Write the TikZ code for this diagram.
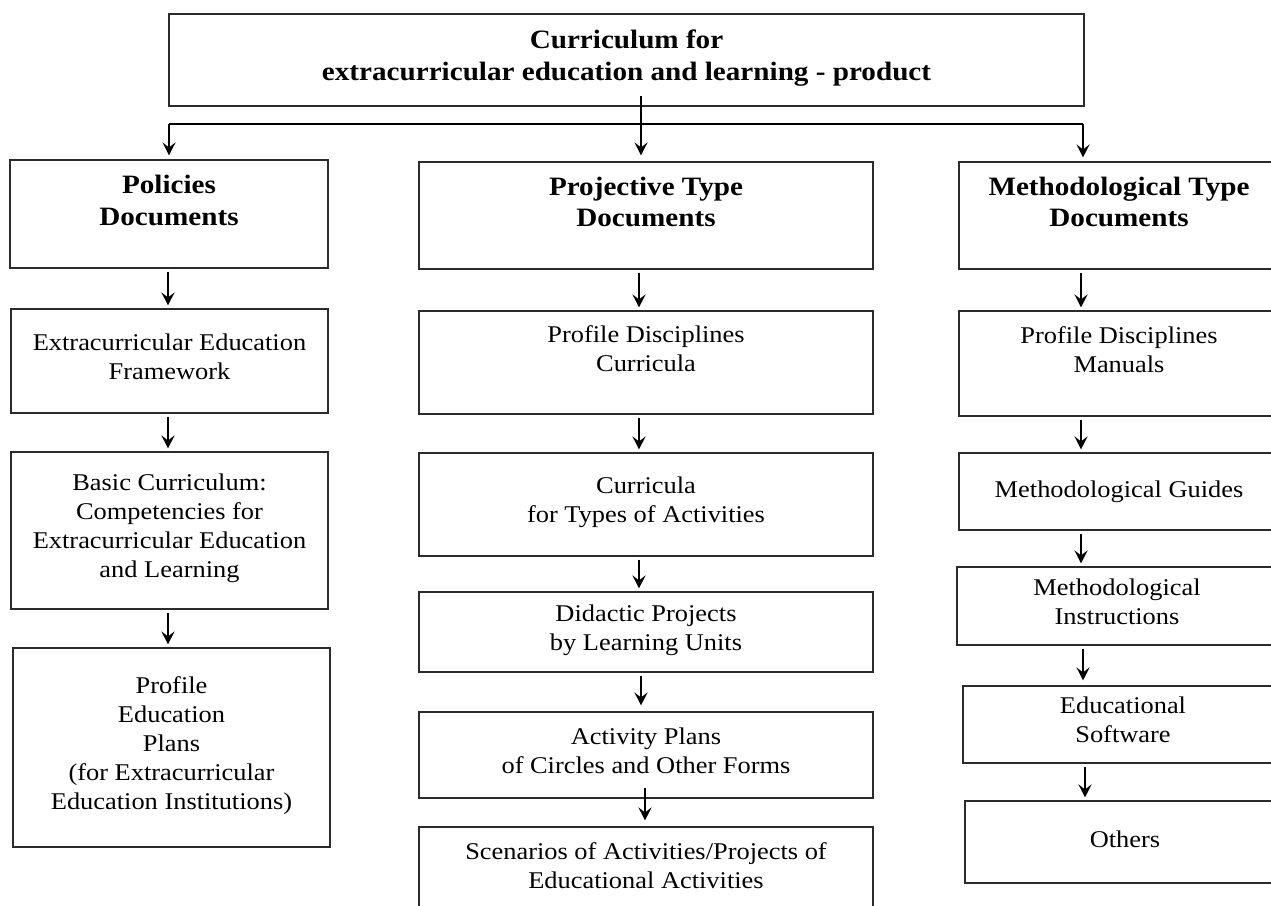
\documentclass[tikz,border=0pt]{standalone}
\usepackage{fontspec}
\setmainfont{Liberation Serif}[FakeStretch=1.1]
\usetikzlibrary{arrows.meta}

\definecolor{boxline}{HTML}{2B2B2B}

% text block that sits above the middle of its box
\newcommand{\raisedtext}[1]{\parbox{310pt}{\centering\strut #1\strut\par\vspace*{22pt}}}

\tikzset{
  box/.style={draw=boxline, line width=1.1pt, inner sep=0pt, align=center,
    font=\fontsize{24}{29}\selectfont,
    execute at begin node=\strut, execute at end node=\strut},
  boxup/.style={draw=boxline, line width=1.1pt, inner sep=0pt,
    font=\fontsize{24}{29}\selectfont},
  head/.style={box, font=\fontsize{26.5}{31.5}\selectfont\bfseries},
  headup/.style={boxup, font=\fontsize{26.5}{31.5}\selectfont\bfseries},
  bus/.style={line width=1.3pt, draw=black},
  tip/.style={-{Stealth[length=13pt,width=13pt,inset=5pt]}},
  feed/.style={tip, line width=1.5pt, shorten >=4pt},
  flow/.style={tip, line width=2pt, shorten <=3pt, shorten >=3pt}
}

\begin{document}
\begin{tikzpicture}[x=1pt, y=-1pt]
\useasboundingbox (0,0) rectangle (1271,905);

% root
\node[head, minimum width=915pt, minimum height=92pt] (top) at (626.5,60)
  {Curriculum for\\extracurricular education and learning - product};

% document types
\node[headup, minimum width=318pt, minimum height=108pt] (pol) at (169,214)
  {\raisedtext{Policies\\Documents}};
\node[headup, minimum width=454pt, minimum height=107pt] (proj) at (646,215.5)
  {\raisedtext{Projective Type\\Documents}};
\node[headup, minimum width=320pt, minimum height=107pt] (meth) at (1119,215.5)
  {\raisedtext{Methodological Type\\Documents}};

% policies column
\node[box, minimum width=317pt, minimum height=104pt] (eef) at (169.5,361)
  {Extracurricular Education\\Framework};
\node[box, minimum width=317pt, minimum height=157pt] (basic) at (169.5,530.5)
  {Basic Curriculum:\\Competencies for\\Extracurricular Education\\and Learning};
\node[box, minimum width=317pt, minimum height=199pt] (pep) at (171.5,747.5)
  {Profile\\Education\\Plans\\(for Extracurricular\\Education Institutions)};

% projective column
\node[boxup, minimum width=454pt, minimum height=103pt] (pdc) at (646,362.5)
  {\raisedtext{Profile Disciplines\\Curricula}};
\node[box, minimum width=454pt, minimum height=103pt] (cur) at (646,504.5)
  {Curricula\\for Types of Activities};
\node[box, minimum width=454pt, minimum height=80pt] (did) at (646,632)
  {Didactic Projects\\by Learning Units};
\node[box, minimum width=454pt, minimum height=86pt] (act) at (646,755)
  {Activity Plans\\of Circles and Other Forms};
\node[box, minimum width=454pt, minimum height=86pt] (scn) at (646,870)
  {Scenarios of Activities/Projects of\\Educational Activities};

% methodological column
\node[boxup, minimum width=320pt, minimum height=105pt] (pdm) at (1119,363.5)
  {\raisedtext{Profile Disciplines\\Manuals}};
\node[box, minimum width=320pt, minimum height=77pt] (mg) at (1119,491.5)
  {Methodological Guides};
\node[box, minimum width=320pt, minimum height=78pt] (mi) at (1117,606)
  {Methodological\\Instructions};
\node[box, minimum width=320pt, minimum height=77pt] (es) at (1123,724.5)
  {Educational\\Software};
\node[box, minimum width=320pt, minimum height=82pt] (oth) at (1125,842)
  {Others};

% distribution bar under the root
\coordinate (busL) at (169,124);
\coordinate (busM) at (641,124);
\coordinate (busR) at (1083,124);
\draw[bus] (busL) -- (busR);
\draw[feed] (busL) -- (busL |- pol.north);
\draw[feed] (busR) -- (busR |- meth.north);
\draw[feed, line width=1.1pt, shorten >=6pt, shorten <=-11pt] (busM |- top.south) -- (busM |- proj.north);

% column guides
\coordinate (colL) at (168,0);
\coordinate (colM) at (639,0);
\coordinate (colM2) at (641,0);
\coordinate (colM3) at (645,0);
\coordinate (colR) at (1081,0);
\coordinate (colR2) at (1083,0);
\coordinate (colR3) at (1085,0);

\draw[flow] (colL |- pol.south) -- (colL |- eef.north);
\draw[flow] (colL |- eef.south) -- (colL |- basic.north);
\draw[flow] (colL |- basic.south) -- (colL |- pep.north);

\draw[flow] (colM |- proj.south) -- (colM |- pdc.north);
\draw[flow] (colM |- pdc.south) -- (colM |- cur.north);
\draw[flow] (colM |- cur.south) -- (colM |- did.north);
\draw[flow, shorten >=6pt] (colM2 |- did.south) -- (colM2 |- act.north);
\draw[flow, shorten <=-11pt, shorten >=6pt] (colM3 |- act.south) -- (colM3 |- scn.north);

\draw[flow] (colR |- meth.south) -- (colR |- pdm.north);
\draw[flow] (colR |- pdm.south) -- (colR |- mg.north);
\draw[flow] (colR |- mg.south) -- (colR |- mi.north);
\draw[flow, shorten >=5pt] (colR2 |- mi.south) -- (colR2 |- es.north);
\draw[flow] (colR3 |- es.south) -- (colR3 |- oth.north);
\end{tikzpicture}
\end{document}
